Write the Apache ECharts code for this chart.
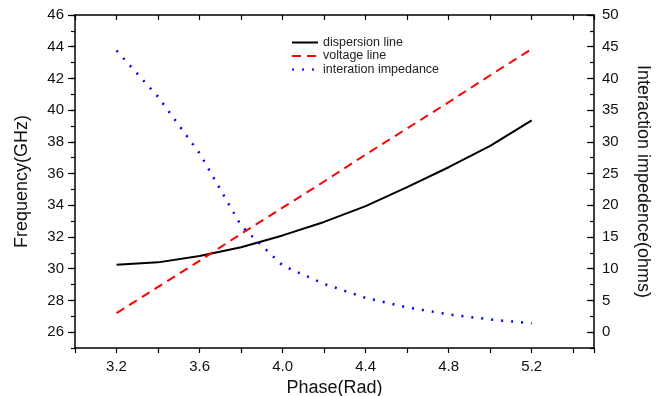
<!DOCTYPE html>
<html><head><meta charset="utf-8">
<script src="https://cdn.jsdelivr.net/npm/echarts@6/dist/echarts.min.js"></script>
<style>html,body{margin:0;padding:0;background:#fff}#c{width:660px;height:396px}</style>
</head><body><div id="c"></div>
<script>
const phase = [3.2, 3.4, 3.6, 3.8, 4.0, 4.2, 4.4, 4.6, 4.8, 5.0, 5.2];
const dispersion = [30.25, 30.4, 30.8, 31.35, 32.1, 32.95, 33.95, 35.15, 36.4, 37.75, 39.35];
const voltage = [27.2, 28.85, 30.5, 32.2, 33.85, 35.5, 37.2, 38.85, 40.5, 42.2, 43.85];
const impedance = [44.4, 37.1, 28.2, 16.8, 10.5, 7.6, 5.4, 3.9, 2.8, 2.0, 1.4];
const seriesNames = ['dispersion line', 'voltage line', 'interation impedance'];
const axisNames = ['Phase(Rad)', 'Frequency(GHz)', 'Interaction impedence(ohms)'];

const FONT = 'Liberation Sans, Arial, sans-serif';
const pair = (ys) => phase.map((x, i) => [x, ys[i]]);
const black = '#000';
const lineW = 1.5;

const chart = echarts.init(document.getElementById('c'), null, {renderer: 'canvas'});
chart.setOption({
  animation: false,
  backgroundColor: '#fff',
  textStyle: {fontFamily: FONT},
  grid: [
    {left: 75, right: 66, top: 15, bottom: 48, containLabel: false, outerBoundsMode: 'none'},
    {left: 75, right: 66, top: 15, bottom: 63.857, containLabel: false, outerBoundsMode: 'none'}
  ],
  legend: {
    orient: 'vertical', left: 286, top: 31,
    itemWidth: 26, itemHeight: 12, itemGap: 0.5,
    itemStyle: {opacity: 0},
    textStyle: {fontSize: 12.5, color: '#222', fontFamily: FONT},
    data: seriesNames
  },
  xAxis: [
    {type: 'value', gridIndex: 0, position: 'bottom', min: 3.0, max: 5.5, interval: 0.2,
     splitLine: {show: false},
     axisLine: {show: true, onZero: false, lineStyle: {color: black, width: lineW}},
     axisTick: {show: true, inside: false, length: 5, lineStyle: {color: black, width: 1.2}},
     axisLabel: {show: true, color: '#111', fontSize: 15, margin: 11, fontFamily: FONT,
       formatter: v => (Math.round(v * 10) % 4 === 0 && v < 5.45 && v > 3.05) ? v.toFixed(1) : ''},
     name: axisNames[0], nameLocation: 'middle', nameGap: 29,
     nameTextStyle: {fontSize: 18, color: '#111', fontFamily: FONT}},
    {type: 'value', gridIndex: 0, position: 'top', min: 3.0, max: 5.5, interval: 0.2,
     splitLine: {show: false},
     axisLine: {show: true, onZero: false, lineStyle: {color: black, width: lineW}},
     axisTick: {show: true, inside: true, length: 5, lineStyle: {color: black, width: 1.2}},
     axisLabel: {show: false}},
    {type: 'value', gridIndex: 1, min: 3.0, max: 5.5, show: false,
     axisLine: {show: false, onZero: false}}
  ],
  yAxis: [
    {type: 'value', gridIndex: 0, position: 'left', min: 25, max: 46, interval: 1,
     splitLine: {show: false},
     axisLine: {show: true, onZero: false, lineStyle: {color: black, width: lineW}},
     axisTick: {show: true, inside: false, length: 4, lineStyle: {color: black, width: 1.2}},
     axisLabel: {show: false},
     name: axisNames[1], nameLocation: 'middle', nameGap: 44, nameRotate: 90,
     nameTextStyle: {fontSize: 18, color: '#111', fontFamily: FONT}},
    {type: 'value', gridIndex: 0, position: 'right', min: -2.5, max: 50, interval: 2.5,
     splitLine: {show: false},
     axisLine: {show: true, onZero: false, lineStyle: {color: black, width: lineW}},
     axisTick: {show: true, inside: true, length: 4, lineStyle: {color: black, width: 1.2}},
     axisLabel: {show: false},
     name: axisNames[2], nameLocation: 'middle', nameGap: 40, nameRotate: -90,
     nameTextStyle: {fontSize: 18, color: '#111', fontFamily: FONT}},
    {type: 'value', gridIndex: 1, position: 'left', min: 26, max: 46, interval: 2,
     splitLine: {show: false},
     axisLine: {show: false, onZero: false},
     axisTick: {show: true, inside: false, length: 7, lineStyle: {color: black, width: 1.2}},
     axisLabel: {show: true, color: '#111', fontSize: 15, margin: 11, fontFamily: FONT}},
    {type: 'value', gridIndex: 1, position: 'right', min: 0, max: 50, interval: 5,
     splitLine: {show: false},
     axisLine: {show: false, onZero: false},
     axisTick: {show: true, inside: true, length: 7, lineStyle: {color: black, width: 1.2}},
     axisLabel: {show: true, color: '#111', fontSize: 15, margin: 8, fontFamily: FONT}}
  ],
  series: [
    {name: seriesNames[0], type: 'line', xAxisIndex: 0, yAxisIndex: 0, data: pair(dispersion),
     symbol: 'none', smooth: false, lineStyle: {color: '#000', width: 2}, itemStyle: {color: '#000'}},
    {name: seriesNames[1], type: 'line', xAxisIndex: 0, yAxisIndex: 0, data: pair(voltage),
     symbol: 'none', lineStyle: {color: '#ff0000', width: 2, type: [9, 6]}, itemStyle: {color: '#ff0000'}},
    {name: seriesNames[2], type: 'line', xAxisIndex: 0, yAxisIndex: 1, data: pair(impedance),
     symbol: 'none', lineStyle: {color: '#0000ff', width: 2.5, type: [2, 8]}, itemStyle: {color: '#0000ff'}}
  ]
});
</script>
</body></html>
